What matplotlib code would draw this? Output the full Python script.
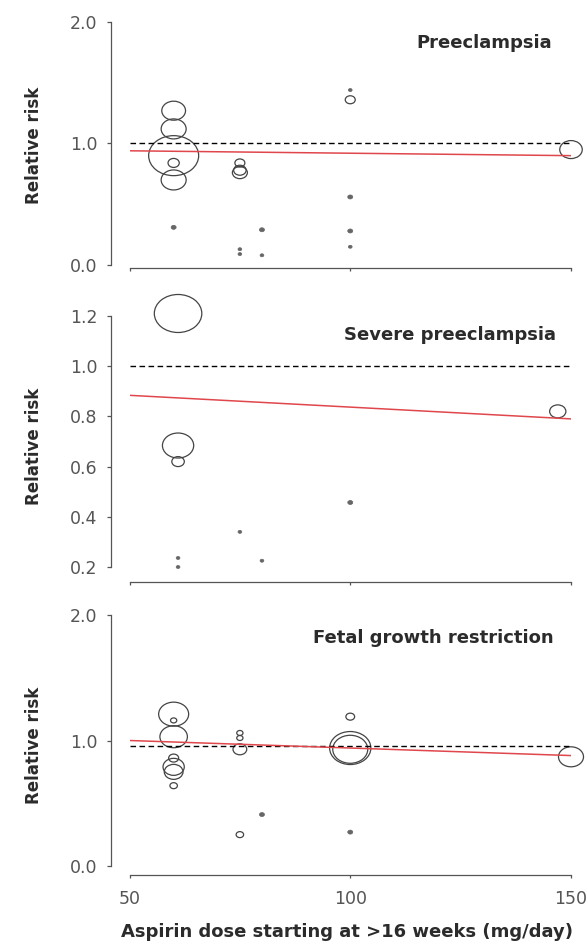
import numpy as np
import matplotlib
matplotlib.use('Agg')
import matplotlib.pyplot as plt
import matplotlib.path as mpath

# ---- data ----
# Preeclampsia
dose_pe = [60, 60, 60, 60, 60, 60, 75, 75, 75, 75, 75, 80, 80, 100, 100, 100, 100, 100, 150]
rr_pe = [1.27, 1.12, 0.90, 0.84, 0.70, 0.31, 0.84, 0.78, 0.76, 0.13, 0.09, 0.29, 0.08, 1.44, 1.36, 0.56, 0.28, 0.15, 0.95]
wt_pe = [19, 20, 40, 9, 20, 4, 8, 10, 12, 3, 3, 4, 3, 3, 8, 4, 4, 3, 18]
fit_pe = [0.94, 0.90]
ref_pe = 1.0

# Severe preeclampsia
dose_spe = [61, 61, 61, 61, 61, 75, 80, 100, 147]
rr_spe = [1.21, 0.684, 0.62, 0.236, 0.20, 0.34, 0.225, 0.457, 0.82]
wt_spe = [38, 25, 10, 3, 3, 3, 3, 4, 13]
fit_spe = [0.884, 0.79]
ref_spe = 1.0

# Fetal growth restriction
dose_fgr = [60, 60, 60, 60, 60, 60, 60, 75, 75, 75, 75, 80, 100, 100, 100, 100, 150]
rr_fgr = [1.21, 1.16, 1.03, 0.86, 0.79, 0.75, 0.64, 1.06, 1.02, 0.93, 0.25, 0.41, 1.19, 0.94, 0.93, 0.27, 0.87]
wt_fgr = [24, 5, 22, 8, 17, 15, 6, 5, 5, 11, 6, 4, 7, 33, 28, 4, 20]
fit_fgr = [1.00, 0.88]
ref_fgr = 0.955

dose_range = [50, 150]
titles = ['Preeclampsia', 'Severe preeclampsia', 'Fetal growth restriction']
ylabel = 'Relative risk'
xlabel = 'Aspirin dose starting at >16 weeks (mg/day)'

W, H = 588, 950
GREY = '#555555'
DARK = '#2b2b2b'
RED = '#e0474c'

# the source picture is stretched sideways, so circles are drawn a bit wide
circ = mpath.Path.unit_circle()
oval = mpath.Path(circ.vertices * [1.25, 1.0], circ.codes)


def px(x, y):
  return x / W, 1 - y / H


def make_axes(fig, top, bottom):
  # x range 50..150 sits between pixel 129.5 and 571
  left, right = 129.5, 571
  return fig.add_axes([left / W, 1 - bottom / H, (right - left) / W, (bottom - top) / H])


def draw_panel(ax, dose, rr, wt, fit, ref, ylim, yticks, xoff, show_xlabels):
  wt = np.array(wt, dtype=float)
  dose = np.array(dose)
  rr = np.array(rr)
  big = wt >= 5
  # open circles for the weighted studies
  ax.scatter(dose[big], rr[big], s=(0.9 * wt[big]) ** 2, marker=oval,
             facecolors='none', edgecolors='#444444', linewidths=0.9, clip_on=False, zorder=2)
  # tiny studies look like small dots
  ax.scatter(dose[~big], rr[~big], s=(0.9 * wt[~big]) ** 2, marker=oval,
             facecolors='#666666', edgecolors='#666666', linewidths=0.5, clip_on=False, zorder=2)

  ax.plot(dose_range, [ref, ref], color='black', lw=1.0, dashes=(4, 2.5), zorder=3)
  ax.plot(dose_range, fit, color=RED, lw=1.1, zorder=4)

  ax.set_xlim(dose_range)
  ax.set_ylim(ylim)
  ax.set_yticks(yticks)
  ax.set_yticklabels(['%.1f' % t for t in yticks])
  ax.set_xticks([50, 100, 150])
  if not show_xlabels:
    ax.set_xticklabels([])

  for s in ['top', 'right']:
    ax.spines[s].set_visible(False)
  ax.spines['left'].set_position(('outward', 13))
  ax.spines['left'].set_bounds(ylim[0], ylim[1])
  ax.spines['bottom'].set_position(('outward', xoff))
  ax.spines['bottom'].set_bounds(50, 150)
  for s in ['left', 'bottom']:
    ax.spines[s].set_color(GREY)
    ax.spines[s].set_linewidth(0.9)
  ax.tick_params(axis='y', direction='out', length=3, width=0.9, color=GREY,
                 labelcolor=GREY, labelsize=12.5, pad=7)
  ax.tick_params(axis='x', direction='out', length=2.2, width=0.9, color=GREY,
                 labelcolor=GREY, labelsize=12.5, pad=8.5)
  ax.patch.set_visible(False)


fig = plt.figure(figsize=(W / 100, H / 100), dpi=100)
plt.rcParams['font.family'] = ['DejaVu Sans']

ax1 = make_axes(fig, 22, 265)
draw_panel(ax1, dose_pe, rr_pe, wt_pe, fit_pe, ref_pe, (0, 2), [0, 1, 2], 2.2, False)
ax2 = make_axes(fig, 316, 567)
draw_panel(ax2, dose_spe, rr_spe, wt_spe, fit_spe, ref_spe, (0.2, 1.2),
           [0.2, 0.4, 0.6, 0.8, 1.0, 1.2], 10.8, False)
ax3 = make_axes(fig, 615, 866)
draw_panel(ax3, dose_fgr, rr_fgr, wt_fgr, fit_fgr, ref_fgr, (0, 2), [0, 1, 2], 6.5, True)

# panel titles, right aligned near the top right corner
for (x, y), t in zip([(552, 43), (556, 335), (554, 638)], titles):
  fig.text(*px(x, y), t, ha='right', va='center', fontsize=13, fontweight='bold', color=DARK)

# y labels for each panel
for y in [145, 446, 745]:
  fig.text(*px(34, y), ylabel, rotation=90, ha='center', va='center',
           fontsize=12, fontweight='bold', color=DARK)

fig.text(*px(347, 932), xlabel, ha='center', va='center', fontsize=13, fontweight='bold', color=DARK)

fig.savefig('out.png', dpi=100, facecolor='white')
